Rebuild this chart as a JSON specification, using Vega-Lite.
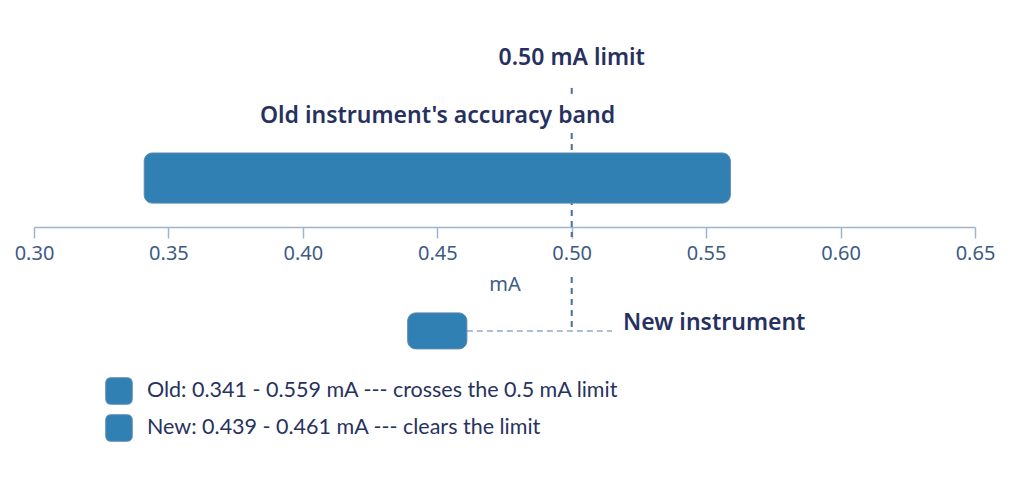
{
  "$schema": "https://vega.github.io/schema/vega-lite/v6.json",
  "width": 941,
  "height": 480,
  "autosize": {"type": "none"},
  "padding": {"left": 34, "top": 0, "right": 49, "bottom": 0},
  "background": "white",
  "config": {"view": {"stroke": null}},
  "datasets": {
    "bands": [
      {"instrument": "Old", "low": 0.341, "high": 0.559, "top": 5.1, "bottom": 6.77, "legend": "Old: 0.341 - 0.559 mA --- crosses the 0.5 mA limit"},
      {"instrument": "New", "low": 0.439, "high": 0.461, "top": 10.43, "bottom": 11.63, "legend": "New: 0.439 - 0.461 mA --- clears the limit"}
    ],
    "limit": [
      {"value": 0.5, "y": 2.93, "y2": 3.2},
      {"value": 0.5, "y": 4.43, "y2": 7.9},
      {"value": 0.5, "y": 9.23, "y2": 11.03}
    ],
    "leader": [
      {"from": 0.461, "to": 0.515, "y": 11.03}
    ],
    "notes": [
      {"label": "0.50 mA limit", "x": 0.5, "y": 1.93},
      {"label": "Old instrument's accuracy band", "x": 0.4501, "y": 3.87}
    ],
    "newnote": [
      {"label": "New instrument", "x": 0.5191, "y": 10.77}
    ]
  },
  "layer": [
    {
      "data": {"name": "limit"},
      "mark": {"type": "rule", "color": "#4a6f98", "strokeWidth": 2, "strokeDash": [6, 5]},
      "encoding": {
        "x": {"field": "value", "type": "quantitative", "scale": {"domain": [0.3, 0.65], "nice": false, "zero": false},
          "axis": {"orient": "bottom", "offset": -253, "values": [0.3, 0.35, 0.4, 0.45, 0.5, 0.55, 0.6, 0.65], "format": ".2f", "title": "mA", "grid": false,
            "labelFlush": false, "labelOverlap": false,
            "domainColor": "#9fb5cd", "domainWidth": 1.5, "tickColor": "#9fb5cd", "tickWidth": 1.5, "tickSize": 11,
            "labelColor": "#3d5b84", "labelFont": "Noto Sans", "labelFontSize": 20, "labelPadding": 5,
            "titleColor": "#3d5b84", "titleFont": "Noto Sans", "titleFontSize": 20, "titleFontWeight": "normal", "titlePadding": 11}},
        "y": {"field": "y", "type": "quantitative", "scale": {"domain": [0, 16], "reverse": true, "nice": false, "zero": false}, "axis": null},
        "y2": {"field": "y2"}
      }
    },
    {
      "data": {"name": "leader"},
      "mark": {"type": "rule", "color": "#93abc6", "strokeWidth": 1.5, "strokeDash": [6, 4]},
      "encoding": {
        "x": {"field": "from", "type": "quantitative"},
        "x2": {"field": "to"},
        "y": {"field": "y", "type": "quantitative"}
      }
    },
    {
      "data": {"name": "bands"},
      "mark": {"type": "bar", "cornerRadius": 8, "stroke": "#5a87b3", "strokeWidth": 1, "opacity": 1},
      "encoding": {
        "x": {"field": "low", "type": "quantitative"},
        "x2": {"field": "high"},
        "y": {"field": "top", "type": "quantitative"},
        "y2": {"field": "bottom"},
        "color": {
          "field": "legend", "type": "nominal",
          "scale": {"domain": ["Old: 0.341 - 0.559 mA --- crosses the 0.5 mA limit", "New: 0.439 - 0.461 mA --- clears the limit"], "range": ["#3180b3", "#3180b3"]},
          "legend": {
            "orient": "none", "legendX": 71, "legendY": 377, "title": null, "padding": 0,
            "symbolType": "M -1 -0.6 Q -1 -1 -0.6 -1 L 0.6 -1 Q 1 -1 1 -0.6 L 1 0.6 Q 1 1 0.6 1 L -0.6 1 Q -1 1 -1 0.6 Z",
            "symbolSize": 700, "symbolStrokeColor": "#5a87b3", "symbolStrokeWidth": 1, "symbolOpacity": 1,
            "labelFont": "Lato", "labelFontSize": 21.5, "labelColor": "#28325f", "labelOffset": 14, "labelLimit": 700,
            "rowPadding": 5
          }
        }
      }
    },
    {
      "data": {"name": "notes"},
      "mark": {"type": "text", "font": "Noto Sans", "fontSize": 23, "fontWeight": 600, "color": "#27315f", "align": "center", "baseline": "middle"},
      "encoding": {
        "x": {"field": "x", "type": "quantitative"},
        "y": {"field": "y", "type": "quantitative"},
        "text": {"field": "label"}
      }
    },
    {
      "data": {"name": "newnote"},
      "mark": {"type": "text", "font": "Noto Sans", "fontSize": 23, "fontWeight": 600, "color": "#27315f", "align": "left", "baseline": "middle"},
      "encoding": {
        "x": {"field": "x", "type": "quantitative"},
        "y": {"field": "y", "type": "quantitative"},
        "text": {"field": "label"}
      }
    }
  ]
}
